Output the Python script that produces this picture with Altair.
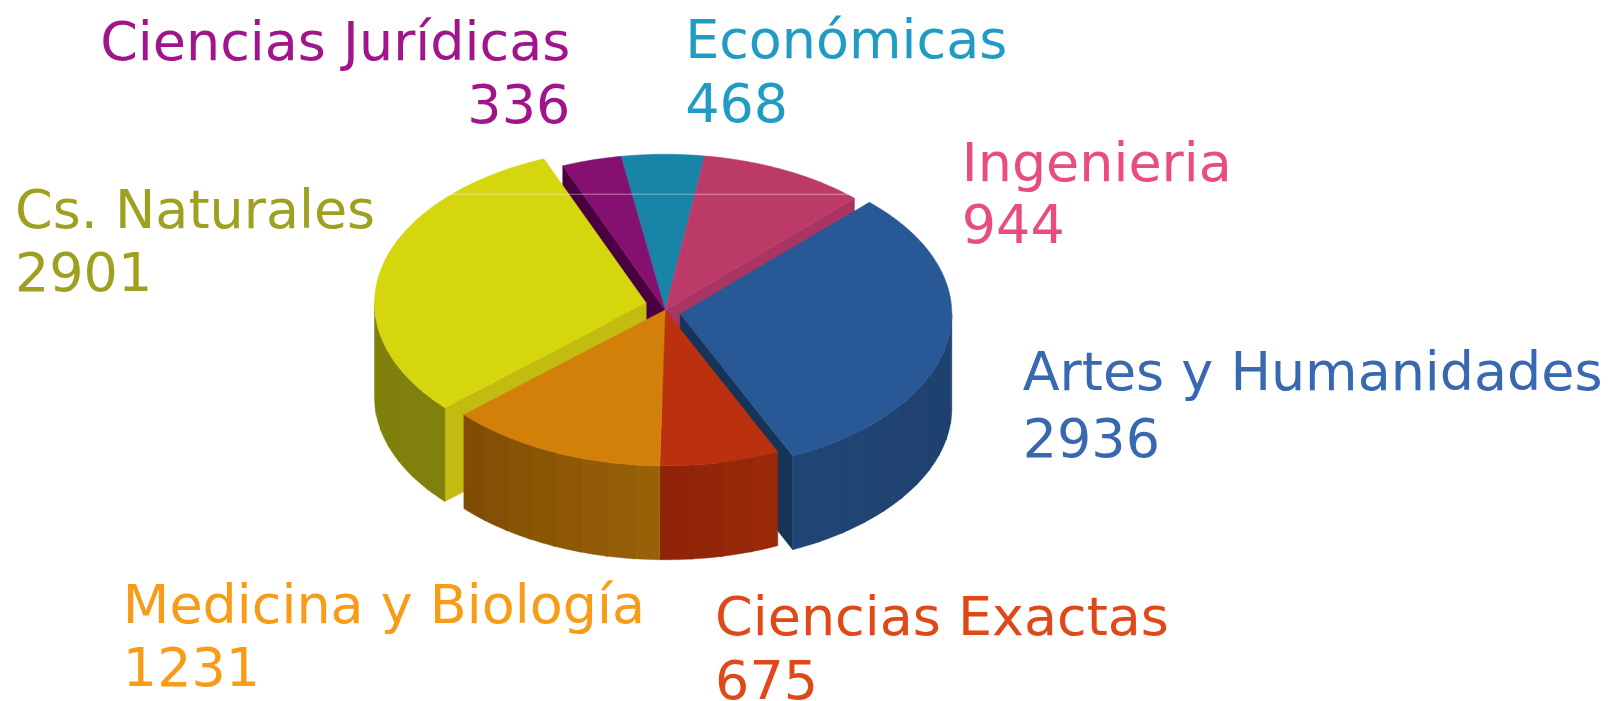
import math
import altair as alt
import pandas as pd

# --- chart values
categories = ["Económicas", "Ingenieria", "Artes y Humanidades", "Ciencias Exactas",
              "Medicina y Biología", "Cs. Naturales", "Ciencias Jurídicas"]
values = [468, 944, 2936, 675, 1231, 2901, 336]

# --- styles
top_colors = ["#1784a8", "#bc3a68", "#295896", "#bb300f", "#d2800a", "#d6d60f", "#861070"]
wall_colors = ["#126a88", "#a83562", "#163358", "#8e2208", "#7f4c04", "#c2bc10", "#4a0040"]
side_left = ["#0f6a88", "#963058", "#214575", "#8e2208", "#7f4c04", "#80800c", "#60084f"]
side_right = ["#0f6a88", "#963058", "#1e406d", "#9c2a0a", "#996208", "#80800c", "#60084f"]
text_colors = ["#209cc4", "#e84c80", "#3868b0", "#e04818", "#f89c18", "#a0a020", "#a0148c"]
explode_dx = [0, 0, 15, 0, 0, -19, 0]
explode_dy = [0, 0, 4, 0, 0, -7, 0]

# --- label layout (page pixels)
label_x = [686, 963, 1024, 716, 123, 15, 571]
label_name_y = [58, 181, 390, 635, 623, 228, 60]
label_value_y = [122, 243, 457, 699, 686, 291, 123]
FONT = "DejaVu Sans"
FONT_SIZE = 54

# --- pie geometry
CX, CY, RX, RY, DEPTH = 666, 310, 272, 156, 94
START_ANGLE = -9.4
BAND_DEG = 6.0
BAND_OVERLAP = 0.6
PAGE_W, PAGE_H = 1611, 701
CANVAS_H = 700


def pt(angle, dx, dy, drop=0.0):
    a = math.radians(angle)
    return [CX + dx + RX * math.sin(a), CY + dy - RY * math.cos(a) + drop]


def feat(ring, fill):
    ring = ring + [ring[0]]
    return {"type": "Feature", "properties": {"fill": fill},
            "geometry": {"type": "Polygon", "coordinates": [ring]}}


def mix(c1, c2, t):
    p = [int(c1[i:i + 2], 16) for i in (1, 3, 5)]
    q = [int(c2[i:i + 2], 16) for i in (1, 3, 5)]
    return "#%02x%02x%02x" % tuple(round(a + (b - a) * t) for a, b in zip(p, q))


total = sum(values)
spans, a0 = [], START_ANGLE
for v in values:
    spans.append((a0, a0 + v / total * 360))
    a0 += v / total * 360

features = []
N = len(values)


def exploded(i):
    return explode_dx[i % N] != 0 or explode_dy[i % N] != 0


def add_slice(i):
    a, b = spans[i]
    dx, dy = explode_dx[i], explode_dy[i]
    apex = [CX + dx, CY + dy]
    apex_low = [CX + dx, CY + dy + DEPTH]
    # radial walls: only those facing the viewer and opened up by an explosion
    if math.sin(math.radians(a)) < 0 and (exploded(i) or exploded(i - 1)):
        features.append(feat([apex, pt(a, dx, dy), pt(a, dx, dy, DEPTH), apex_low], wall_colors[i]))
    if math.sin(math.radians(b)) > 0 and (exploded(i) or exploded(i + 1)):
        features.append(feat([apex, pt(b, dx, dy), pt(b, dx, dy, DEPTH), apex_low], wall_colors[i]))
    # outer side, in vertical bands (only the front half shows)
    lo, hi = max(a, 90), min(b, 270)
    if hi > lo:
        n = max(1, round((hi - lo) / BAND_DEG))
        for k in range(n):
            s0 = max(lo, lo + (hi - lo) * k / n - BAND_OVERLAP)
            s1 = lo + (hi - lo) * (k + 1) / n
            steps = [s0 + (s1 - s0) * j / 4 for j in range(5)]
            ring = [pt(s, dx, dy) for s in steps] + [pt(s, dx, dy, DEPTH) for s in reversed(steps)]
            # larger angle = further left on screen
            t = (k + 0.5) / n
            features.append(feat(ring, mix(side_right[i], side_left[i], t)))
    # top
    n = max(2, int(b - a))
    ring = [apex] + [pt(a + (b - a) * j / n, dx, dy) for j in range(n + 1)]
    features.append(feat(ring, top_colors[i]))


# painter's order: back slices first, front slices last
for i in [0, 6, 1, 2, 5, 3, 4]:
    add_slice(i)

x_scale = alt.Scale(domain=[8, PAGE_W - 8], nice=False, zero=False)
y_scale = alt.Scale(domain=[8, 8 + CANVAS_H], nice=False, zero=False, reverse=True)

pie = alt.Chart(alt.InlineData(values=features)).mark_geoshape(strokeWidth=0.5).encode(
    fill=alt.Fill("properties.fill:N", scale=None),
    stroke=alt.Stroke("properties.fill:N", scale=None),
).project(type="identity", scale=1, translate=[-8, -8])

glare = alt.Chart(pd.DataFrame({"x": [451], "x2": [855], "y": [194]})).mark_rule(
    color="#ffffff", opacity=0.45, strokeWidth=1
).encode(
    x=alt.X("x:Q", scale=x_scale, axis=None),
    x2="x2:Q",
    y=alt.Y("y:Q", scale=y_scale, axis=None),
)

rows = []
for i, c in enumerate(categories):
    align = "right" if c == "Ciencias Jurídicas" else "left"
    rows.append({"t": c, "x": label_x[i], "y": label_name_y[i], "c": text_colors[i], "a": align})
    rows.append({"t": str(values[i]), "x": label_x[i], "y": label_value_y[i], "c": text_colors[i], "a": align})
labels = pd.DataFrame(rows)


def text_layer(align):
    return alt.Chart(labels[labels["a"] == align]).mark_text(
        align=align, baseline="alphabetic", font=FONT, fontSize=FONT_SIZE
    ).encode(
        x=alt.X("x:Q", scale=x_scale, axis=None),
        y=alt.Y("y:Q", scale=y_scale, axis=None),
        text="t:N",
        color=alt.Color("c:N", scale=None),
    )


chart = alt.layer(pie, glare, text_layer("left"), text_layer("right")).properties(
    width=PAGE_W - 16, height=CANVAS_H, padding=0, background="#ffffff"
).configure_view(stroke=None)

chart.save("out.html", embed_options={"renderer": "svg", "actions": False})
